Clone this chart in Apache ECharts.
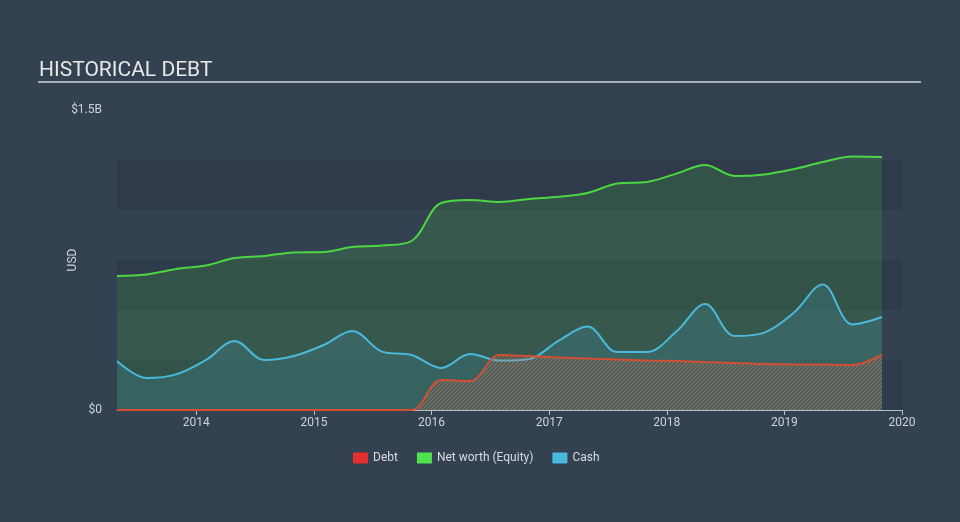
<!DOCTYPE html>
<html>
<head>
<meta charset="utf-8">
<script src="https://cdn.jsdelivr.net/npm/echarts@6/dist/echarts.min.js"></script>
<style>
  html, body { margin: 0; padding: 0; background: #334150; }
  #chart { width: 960px; height: 522px; }
</style>
</head>
<body>
<div id="chart"></div>
<script>
// quarterly reporting dates
const dates = [
  '2013-04-30', '2013-07-31', '2013-10-31',
  '2014-01-31', '2014-04-30', '2014-07-31', '2014-10-31',
  '2015-01-31', '2015-04-30', '2015-07-31', '2015-10-31',
  '2016-01-31', '2016-04-30', '2016-07-31', '2016-10-31',
  '2017-01-31', '2017-04-30', '2017-07-31', '2017-10-31',
  '2018-01-31', '2018-04-30', '2018-07-31', '2018-10-31',
  '2019-01-31', '2019-04-30', '2019-07-31', '2019-10-31'
];
// values in USD millions
const debt = [
  0, 0, 0,
  0, 0, 0, 0,
  0, 0, 0, 0,
  150, 145, 275, 270,
  263, 258, 253, 248,
  245, 240, 235, 230,
  228, 227, 225, 275
];
const netWorth = [
  670, 678, 705,
  722, 760, 770, 788,
  790, 815, 822, 845,
  1035, 1050, 1040, 1055,
  1066, 1085, 1132, 1140,
  1182, 1225, 1170, 1178,
  1205, 1240, 1268, 1265
];
const cash = [
  245, 160, 178,
  250, 345, 250, 270,
  325, 395, 292, 275,
  210, 280, 247, 255,
  347, 417, 290, 290,
  392, 530, 370, 387,
  487, 628, 428, 465
];
const yearTicks = [2014, 2015, 2016, 2017, 2018, 2019, 2020];

function toYear(s) {
  const p = s.split('-').map(Number);
  const start = Date.UTC(p[0], 0, 1);
  const end = Date.UTC(p[0] + 1, 0, 1);
  return p[0] + (Date.UTC(p[0], p[1] - 1, p[2]) - start) / (end - start);
}
function pairs(vals) {
  return dates.map((d, i) => [toYear(d), vals[i] * 1e6]);
}

// hatch pattern for the debt area
const hatch = document.createElement('canvas');
hatch.width = 4;
hatch.height = 4;
const ctx = hatch.getContext('2d');
ctx.strokeStyle = 'rgba(215,115,95,0.8)';
ctx.lineWidth = 1.3;
ctx.beginPath();
ctx.moveTo(0, 4); ctx.lineTo(4, 0);
ctx.moveTo(-1, 1); ctx.lineTo(1, -1);
ctx.moveTo(3, 5); ctx.lineTo(5, 3);
ctx.stroke();

const font = 'Roboto, "Noto Sans", sans-serif';
const myChart = echarts.init(document.getElementById('chart'));
const option = {
  backgroundColor: '#334150',
  textStyle: { fontFamily: font },
  title: {
    text: 'HISTORICAL DEBT',
    left: 34,
    top: 55,
    textStyle: { color: '#e8e8e8', fontSize: 21, fontWeight: 'normal', fontFamily: font }
  },
  graphic: [{
    type: 'rect',
    shape: { x: 38, y: 81, width: 883, height: 2 },
    style: { fill: '#a9afb7' },
    silent: true
  }],
  legend: {
    left: 348,
    top: 447,
    icon: 'rect',
    itemWidth: 15,
    itemHeight: 11,
    itemGap: 19,
    textStyle: { color: '#d8dbe0', fontSize: 12, fontFamily: font },
    data: [
      { name: 'Debt', itemStyle: { color: '#e5302f' } },
      { name: 'Net worth (Equity)', itemStyle: { color: '#51e34f' } },
      { name: 'Cash', itemStyle: { color: '#4ab9dd' } }
    ]
  },
  grid: { left: 117, right: 58, top: 110, bottom: 112 },
  xAxis: {
    type: 'value',
    min: toYear(dates[0]),
    max: 2020,
    axisLine: { lineStyle: { color: '#b8bec6', width: 1 } },
    axisTick: { show: true, length: 5, lineStyle: { color: '#b8bec6' }, customValues: yearTicks },
    axisLabel: { color: '#cfd3d8', fontSize: 12, margin: 7, customValues: yearTicks, formatter: v => String(v) },
    splitLine: { show: false }
  },
  yAxis: {
    type: 'value',
    min: 0,
    max: 1.5e9,
    interval: 2.5e8,
    name: 'USD',
    nameLocation: 'middle',
    nameGap: 38,
    nameMoveOverlap: false,
    nameTextStyle: { color: '#cfd3d8', fontSize: 12 },
    axisLine: { show: false },
    axisTick: { show: false },
    axisLabel: {
      color: '#cfd3d8',
      fontSize: 12,
      margin: 15,
      formatter: v => v === 0 ? '$0' : (v === 1.5e9 ? '$1.5B' : '')
    },
    splitLine: { show: false },
    splitArea: { show: true, areaStyle: { color: ['#2f3b4a', 'rgba(0,0,0,0)'] } }
  },
  series: [
    {
      name: 'Net worth (Equity)',
      type: 'line',
      smooth: 0.35,
      showSymbol: false,
      data: pairs(netWorth),
      itemStyle: { color: '#51e34f' },
      lineStyle: { color: '#4cd643', width: 2 },
      areaStyle: { color: 'rgba(76,200,70,0.25)', origin: 'start' },
      z: 1
    },
    {
      name: 'Cash',
      type: 'line',
      smooth: 0.35,
      showSymbol: false,
      data: pairs(cash),
      itemStyle: { color: '#4ab9dd' },
      lineStyle: { color: '#4bb9dc', width: 2 },
      areaStyle: { color: 'rgba(75,185,220,0.22)', origin: 'start' },
      z: 2
    },
    {
      name: 'Debt',
      type: 'line',
      smooth: 0.35,
      showSymbol: false,
      data: pairs(debt),
      itemStyle: { color: '#e5302f' },
      lineStyle: { color: '#d24e35', width: 2 },
      areaStyle: { color: { image: hatch, repeat: 'repeat' }, origin: 'start' },
      z: 3
    }
  ]
};
myChart.setOption(option);
</script>
</body>
</html>
